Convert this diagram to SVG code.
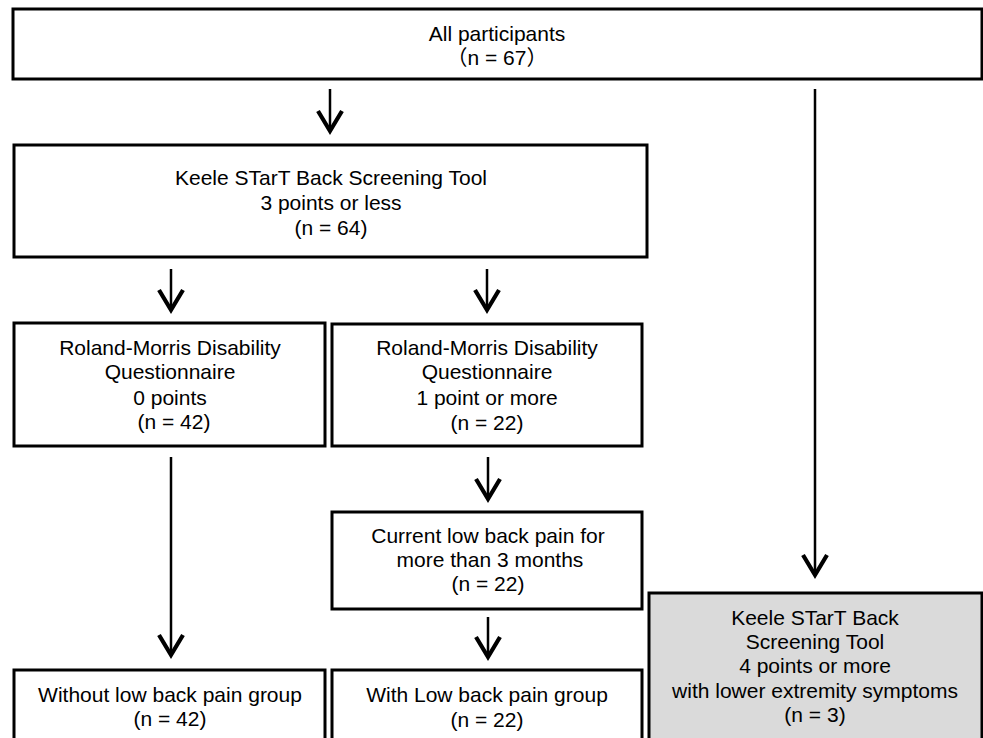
<svg xmlns="http://www.w3.org/2000/svg" width="983" height="738" viewBox="0 0 983 738">
<defs>
<style>
.box{fill:#ffffff;stroke:#000000;stroke-width:3}
.gray{fill:#dadada;stroke:#000000;stroke-width:3}
.t{font-family:"Liberation Sans",Arial,"Noto Sans CJK JP",sans-serif;font-size:21px;fill:#000000;text-anchor:middle}
.conn{stroke:#000000;stroke-width:2.5;fill:none}
</style>
<marker id="chev" markerUnits="userSpaceOnUse" viewBox="-26 -16 32 32" refX="0" refY="0" markerWidth="32" markerHeight="32" orient="auto" overflow="visible">
<path d="M-20,-12 L0,0 L-20,12" fill="none" stroke="#000000" stroke-width="4.2" stroke-linejoin="miter"/>
</marker>
</defs>
<rect x="0" y="0" width="983" height="738" fill="#ffffff"/>
<g id="connectors">
<line class="conn" x1="330" y1="89" x2="330" y2="131" marker-end="url(#chev)"/>
<line class="conn" x1="171" y1="269" x2="171" y2="310" marker-end="url(#chev)"/>
<line class="conn" x1="487" y1="269" x2="487" y2="310" marker-end="url(#chev)"/>
<line class="conn" x1="171" y1="457" x2="171" y2="655" marker-end="url(#chev)"/>
<line class="conn" x1="488" y1="457" x2="488" y2="499" marker-end="url(#chev)"/>
<line class="conn" x1="488" y1="617" x2="488" y2="657" marker-end="url(#chev)"/>
<line class="conn" x1="815" y1="89" x2="815" y2="575" marker-end="url(#chev)"/>
</g>
<g id="all-participants">
<rect class="box" x="13" y="9" width="969" height="70"/>
<text class="t" x="497" y="41">All participants</text>
<text class="t" x="497" y="65">（n = 67）</text>
</g>
<g id="ksbt-low">
<rect class="box" x="14" y="145" width="633" height="112"/>
<text class="t" x="331" y="185">Keele STarT Back Screening Tool</text>
<text class="t" x="331" y="210">3 points or less</text>
<text class="t" x="331" y="235">(n = 64)</text>
</g>
<g id="rmdq-zero">
<rect class="box" x="14" y="323" width="311" height="123"/>
<text class="t" x="170" y="355">Roland-Morris Disability</text>
<text class="t" x="170" y="379">Questionnaire</text>
<text class="t" x="170" y="405">0 points</text>
<text class="t" x="174" y="429">(n = 42)</text>
</g>
<g id="rmdq-one">
<rect class="box" x="332" y="324" width="310" height="122"/>
<text class="t" x="487" y="355">Roland-Morris Disability</text>
<text class="t" x="487" y="379">Questionnaire</text>
<text class="t" x="487" y="405">1 point or more</text>
<text class="t" x="487" y="430">(n = 22)</text>
</g>
<g id="current-lbp">
<rect class="box" x="332" y="512" width="310" height="97"/>
<text class="t" x="488" y="543">Current low back pain for</text>
<text class="t" x="490" y="567">more than 3 months</text>
<text class="t" x="488" y="591">(n = 22)</text>
</g>
<g id="without-lbp">
<rect class="box" x="14" y="670" width="311" height="80"/>
<text class="t" x="170" y="702">Without low back pain group</text>
<text class="t" x="170" y="726">(n = 42)</text>
</g>
<g id="with-lbp">
<rect class="box" x="332" y="670" width="310" height="80"/>
<text class="t" x="487" y="702">With Low back pain group</text>
<text class="t" x="487" y="727">(n = 22)</text>
</g>
<g id="ksbt-high">
<rect class="gray" x="649" y="593" width="333" height="160"/>
<text class="t" x="815" y="625">Keele STarT Back</text>
<text class="t" x="815" y="649">Screening Tool</text>
<text class="t" x="815" y="673">4 points or more</text>
<text class="t" x="815" y="698">with lower extremity symptoms</text>
<text class="t" x="815" y="722">(n = 3)</text>
</g>
</svg>
